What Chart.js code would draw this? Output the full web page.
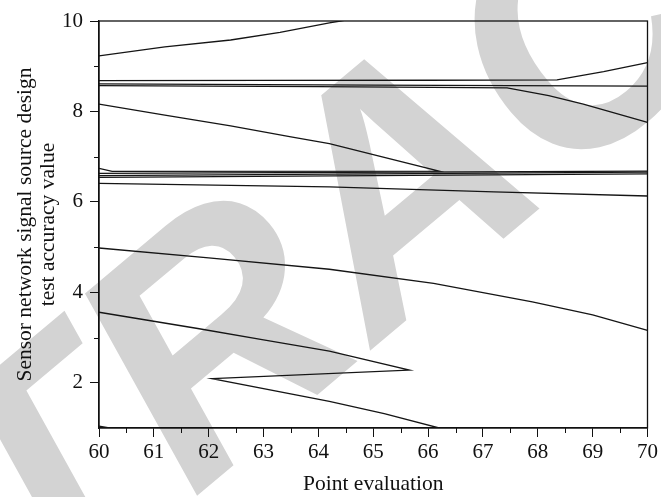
<!DOCTYPE html>
<html>
<head>
<meta charset="utf-8">
<script src="https://cdn.jsdelivr.net/npm/chart.js@4.4.1/dist/chart.umd.min.js"></script>
<style>
    body { margin: 0; background: #fff; }
    #wrap { width: 661px; height: 497px; }
</style>
</head>
<body>
<div id="wrap"><canvas id="chart" width="661" height="497"></canvas></div>
<script>
// Datos (x = Point evaluation, y = accuracy value)
const xTicks = [60, 61, 62, 63, 64, 65, 66, 67, 68, 69, 70];
const yTicks = [2, 4, 6, 8, 10];
const xMinorTicks = [60.5, 61.5, 62.5, 63.5, 64.5, 65.5, 66.5, 67.5, 68.5, 69.5];
const yMinorTicks = [3, 5, 7, 9];

const topCurveX = [60, 61.2, 62.4, 63.3, 64.2, 64.4, 65];
const topCurveY = [9.23, 9.43, 9.58, 9.75, 9.96, 10.0, 10.12];

const upperFlatX = [60, 63, 66, 68.35, 69.2, 70];
const upperFlatY = [8.68, 8.685, 8.69, 8.7, 8.88, 9.08];

const midFlatX = [60, 65, 70];
const midFlatY = [8.61, 8.58, 8.56];

const bendDownX = [60, 64, 67.44, 68.2, 68.83, 70];
const bendDownY = [8.57, 8.55, 8.52, 8.35, 8.16, 7.76];

const zigTopX = [60, 61.2, 62.4, 63.5, 64.2, 66.2, 60.24, 60];
const zigTopY = [8.16, 7.92, 7.68, 7.44, 7.29, 6.68, 6.675, 6.74];

const bandAX = [60, 70];
const bandAY = [6.63, 6.68];
const bandBX = [60, 70];
const bandBY = [6.58, 6.66];
const bandCX = [60, 70];
const bandCY = [6.54, 6.62];

const slopeX = [60, 64.2, 67.2, 70];
const slopeY = [6.41, 6.33, 6.22, 6.13];

const fallX = [60, 62, 64.2, 66.1, 67.9, 69, 70];
const fallY = [4.98, 4.76, 4.51, 4.2, 3.79, 3.5, 3.16];

const zigLowX = [60, 61.8, 63, 64.2, 65.66, 62.06, 64.2, 65.2, 66.2];
const zigLowY = [3.56, 3.2, 2.95, 2.7, 2.28, 2.09, 1.59, 1.32, 1.0];

const cornerX = [60, 60.3];
const cornerY = [1.04, 0.98];

const seriesList = [
    [topCurveX, topCurveY],
    [upperFlatX, upperFlatY],
    [midFlatX, midFlatY],
    [bendDownX, bendDownY],
    [zigTopX, zigTopY],
    [bandAX, bandAY],
    [bandBX, bandBY],
    [bandCX, bandCY],
    [slopeX, slopeY],
    [fallX, fallY],
    [zigLowX, zigLowY],
    [cornerX, cornerY]
];

const serif = "'Liberation Serif', 'Times New Roman', serif";

// Marca de agua gris debajo de todo
const watermark = {
    id: 'watermark',
    beforeDraw(chart) {
        const ctx = chart.ctx;
        ctx.save();
        ctx.translate(408, 200);
        ctx.rotate(-40 * Math.PI / 180);
        ctx.font = "italic bold 330px 'Liberation Sans', Arial, sans-serif";
        ctx.fillStyle = '#d3d3d3';
        ctx.textAlign = 'center';
        ctx.textBaseline = 'middle';
        ctx.fillText('RETRACTED', 0, 0);
        ctx.restore();
    }
};

// Marco y ticks menores
const frame = {
    id: 'frame',
    afterDatasetsDraw(chart) {
        const ctx = chart.ctx;
        const a = chart.chartArea;
        const xs = chart.scales.x;
        const ys = chart.scales.y;
        ctx.save();
        ctx.strokeStyle = '#111';
        ctx.lineWidth = 1.3;
        ctx.strokeRect(a.left, a.top, a.right - a.left, a.bottom - a.top);
        ctx.lineWidth = 1;
        ctx.beginPath();
        xMinorTicks.forEach(v => {
            const px = Math.round(xs.getPixelForValue(v)) + 0.5;
            ctx.moveTo(px, a.bottom);
            ctx.lineTo(px, a.bottom + 5);
        });
        yMinorTicks.forEach(v => {
            const py = Math.round(ys.getPixelForValue(v)) + 0.5;
            ctx.moveTo(a.left, py);
            ctx.lineTo(a.left - 5, py);
        });
        ctx.stroke();
        ctx.restore();
    }
};

const datasets = seriesList.map(([xs, ys]) => ({
    data: xs.map((x, i) => ({ x: x, y: ys[i] })),
    showLine: true,
    borderColor: '#151515',
    borderWidth: 1.3,
    pointRadius: 0,
    tension: 0,
    fill: false
}));

new Chart(document.getElementById('chart'), {
    type: 'scatter',
    data: { datasets: datasets },
    plugins: [watermark, frame],
    options: {
        responsive: false,
        animation: false,
        layout: { padding: { top: 21, right: 10, left: 0, bottom: 0 } },
        plugins: { legend: { display: false }, tooltip: { enabled: false } },
        scales: {
            x: {
                type: 'linear',
                min: 60,
                max: 70,
                afterBuildTicks: s => { s.ticks = xTicks.map(v => ({ value: v })); },
                afterFit: s => { s.height = 69; },
                grid: { display: true, drawOnChartArea: false, drawTicks: true, tickLength: 9, color: '#111', lineWidth: 1 },
                border: { display: true, color: '#111', width: 1.3 },
                ticks: { color: '#111', font: { family: serif, size: 21 }, padding: 3, maxRotation: 0 },
                title: {
                    display: true,
                    text: 'Point evaluation',
                    color: '#111',
                    font: { family: serif, size: 21.5 },
                    padding: { top: 0, bottom: 0 }
                }
            },
            y: {
                type: 'linear',
                min: 1,
                max: 10,
                afterBuildTicks: s => { s.ticks = yTicks.map(v => ({ value: v })); },
                afterFit: s => { s.width = 99; },
                grid: { display: true, drawOnChartArea: false, drawTicks: true, tickLength: 9, color: '#111', lineWidth: 1 },
                border: { display: true, color: '#111', width: 1.3 },
                ticks: { color: '#111', font: { family: serif, size: 21 }, padding: 7 },
                title: {
                    display: true,
                    text: ['Sensor network signal source design', 'test accuracy value'],
                    color: '#111',
                    font: { family: serif, size: 21.5, lineHeight: 1.05 },
                    padding: { top: 14, bottom: 0 }
                }
            }
        }
    }
});
</script>
</body>
</html>
